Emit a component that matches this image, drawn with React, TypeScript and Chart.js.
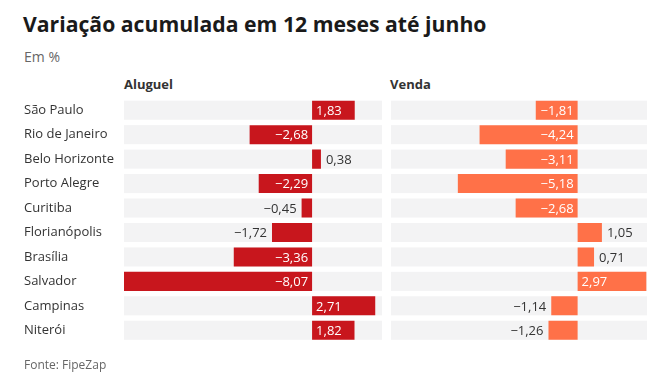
import React, { useEffect, useRef } from 'react';
import { Chart, registerables } from 'chart.js';

Chart.register(...registerables);

const cities = ['São Paulo', 'Rio de Janeiro', 'Belo Horizonte', 'Porto Alegre', 'Curitiba', 'Florianópolis', 'Brasília', 'Salvador', 'Campinas', 'Niterói'];
const aluguel = [1.83, -2.68, 0.38, -2.29, -0.45, -1.72, -3.36, -8.07, 2.71, 1.82];
const venda = [-1.81, -4.24, -3.11, -5.18, -2.68, 1.05, 0.71, 2.97, -1.14, -1.26];
const xMin = -8.07;
const xMax = 3.0;
const insideThreshold = 1.8;

const FONT = "'Open Sans', 'Noto Sans', sans-serif";

const fmt = (v: number) => (v < 0 ? '\u2212' : '') + Math.abs(v).toFixed(2).replace('.', ',');

const stripPlugin = {
  id: 'strips',
  beforeDatasetsDraw(chart: any) {
    const { ctx, chartArea } = chart;
    const meta = chart.getDatasetMeta(0);
    ctx.save();
    ctx.fillStyle = '#f3f3f4';
    meta.data.forEach((bar: any) => {
      const h = bar.height;
      ctx.fillRect(chartArea.left, bar.y - h / 2, chartArea.right - chartArea.left, h);
    });
    ctx.restore();
  },
};

const labelPlugin = {
  id: 'valueLabels',
  afterDatasetsDraw(chart: any) {
    const { ctx } = chart;
    const meta = chart.getDatasetMeta(0);
    const values = chart.data.datasets[0].data as number[];
    ctx.save();
    ctx.font = `13px ${FONT}`;
    ctx.textBaseline = 'middle';
    meta.data.forEach((bar: any, i: number) => {
      const v = values[i];
      const inside = Math.abs(v) >= insideThreshold;
      const txt = fmt(v);
      const y = bar.y + 1;
      if (inside) {
        ctx.fillStyle = '#ffffff';
        if (v >= 0) {
          ctx.textAlign = 'left';
          ctx.fillText(txt, bar.base + 4, y);
        } else {
          ctx.textAlign = 'right';
          ctx.fillText(txt, bar.base - 4, y);
        }
      } else {
        ctx.fillStyle = '#333333';
        if (v >= 0) {
          ctx.textAlign = 'left';
          ctx.fillText(txt, bar.x + 5, y);
        } else {
          ctx.textAlign = 'right';
          ctx.fillText(txt, bar.x - 5, y);
        }
      }
    });
    ctx.restore();
  },
};

function makeConfig(values: number[], color: string, showLabels: boolean, padLeft: number, padRight: number): any {
  return {
    type: 'bar',
    data: {
      labels: cities,
      datasets: [
        {
          data: values,
          backgroundColor: color,
          borderWidth: 0,
          barPercentage: 0.78,
          categoryPercentage: 1,
        },
      ],
    },
    options: {
      indexAxis: 'y',
      responsive: false,
      animation: false,
      events: [],
      layout: { padding: { left: padLeft, right: padRight, top: 98, bottom: 34.5 } },
      plugins: { legend: { display: false }, tooltip: { enabled: false }, title: { display: false } },
      scales: {
        x: { type: 'linear', min: xMin, max: xMax, display: false },
        y: {
          display: showLabels,
          grid: { display: false },
          border: { display: false },
          ticks: { crossAlign: 'far', color: '#333333', font: { family: FONT, size: 13 }, padding: 0 },
          afterFit: (s: any) => {
            s.width = showLabels ? 100 : 0;
          },
        },
      },
    },
    plugins: [stripPlugin, labelPlugin],
  };
}

export default function App() {
  const ref1 = useRef<HTMLCanvasElement>(null);
  const ref2 = useRef<HTMLCanvasElement>(null);

  useEffect(() => {
    const c1 = new Chart(ref1.current as HTMLCanvasElement, makeConfig(aluguel, '#c8161d', true, 24, 283));
    const c2 = new Chart(ref2.current as HTMLCanvasElement, makeConfig(venda, '#ff7148', false, 391, 18));
    return () => {
      c1.destroy();
      c2.destroy();
    };
  }, []);

  const text = (fs: number, baseline: number): React.CSSProperties => ({
    position: 'absolute',
    fontFamily: FONT,
    fontSize: fs,
    lineHeight: 1,
    top: baseline - 0.888 * fs,
    whiteSpace: 'nowrap',
    margin: 0,
  });

  const canvasStyle: React.CSSProperties = { position: 'absolute', left: 0, top: 0, width: 665, height: 377 };

  return (
    <div style={{ position: 'absolute', left: 0, top: 0, width: 665, height: 377, background: '#ffffff', overflow: 'hidden' }}>
      <div style={{ ...text(21.2, 32), left: 23, fontWeight: 700, color: '#1a1a1a', letterSpacing: 0 }}>
        Variação acumulada em 12 meses até junho
      </div>
      <div style={{ ...text(14, 62), left: 24, color: '#666666' }}>Em %</div>
      <div style={{ ...text(13, 90), left: 124, fontWeight: 700, color: '#333333' }}>Aluguel</div>
      <div style={{ ...text(13, 90), left: 390, fontWeight: 700, color: '#333333' }}>Venda</div>
      <canvas ref={ref1} width={665} height={377} style={canvasStyle} />
      <canvas ref={ref2} width={665} height={377} style={canvasStyle} />
      <div style={{ ...text(12, 370), left: 24, color: '#666666' }}>Fonte: FipeZap</div>
    </div>
  );
}
